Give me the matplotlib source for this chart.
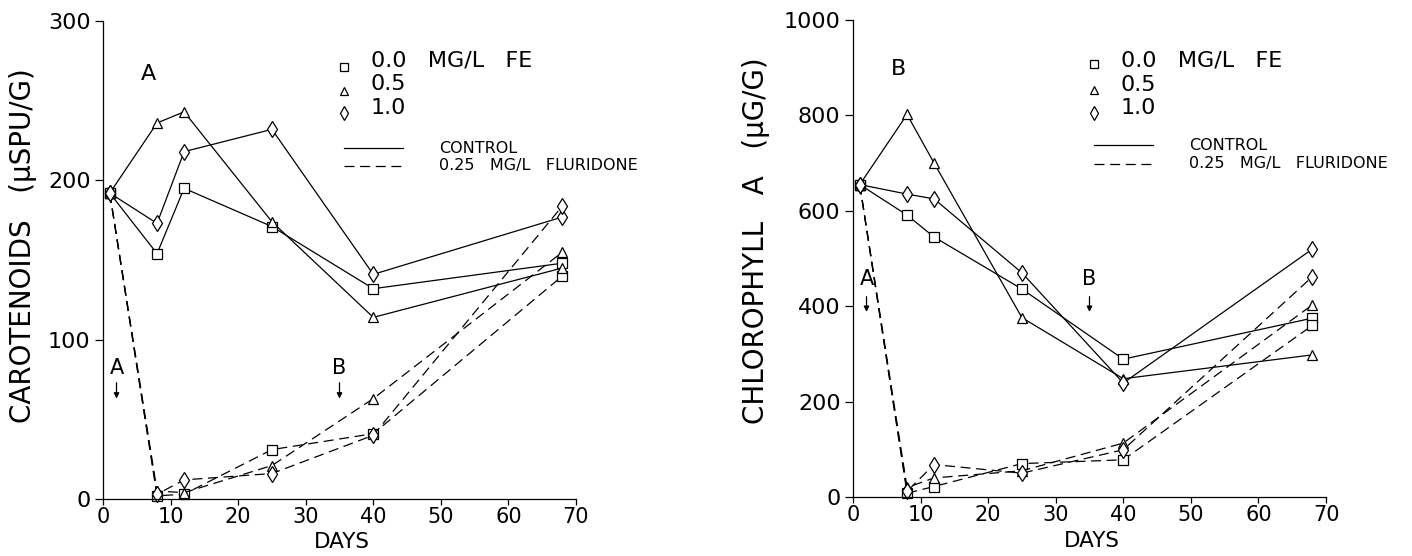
import matplotlib
matplotlib.use("Agg")
import matplotlib.pyplot as plt

# ---------------------------------------------------------------------
# data
days = [1, 8, 12, 25, 40, 68]
series_labels = ["0.0", "0.5", "1.0"]
markers = ["s", "^", "d"]

# A: carotenoids (uSPU/G)
car_control = {
    "0.0": [192, 154, 195, 171, 132, 148],
    "0.5": [192, 236, 243, 174, 114, 145],
    "1.0": [192, 173, 218, 232, 141, 177],
}
car_flur = {
    "0.0": [192, 2, 3, 31, 41, 140],
    "0.5": [192, 5, 4, 21, 63, 155],
    "1.0": [192, 3, 12, 16, 40, 184],
}

# B: chlorophyll a (uG/G)
chl_control = {
    "0.0": [655, 591, 545, 436, 289, 375],
    "0.5": [655, 802, 700, 376, 248, 298],
    "1.0": [655, 635, 625, 470, 239, 520],
}
chl_flur = {
    "0.0": [655, 8, 22, 70, 78, 360],
    "0.5": [655, 20, 40, 55, 113, 403],
    "1.0": [655, 12, 68, 50, 99, 462],
}

legend_text = ["0.0   MG/L   FE", "0.5", "1.0"]

panels = [
    dict(ctrl=car_control, flur=car_flur, ymax=300, yticks=[0, 100, 200, 300],
         ylabel="CAROTENOIDS   (\u03bcSPU/G)", tag="A"),
    dict(ctrl=chl_control, flur=chl_flur, ymax=1000, yticks=[0, 200, 400, 600, 800, 1000],
         ylabel="CHLOROPHYLL   A   (\u03bcG/G)", tag="B"),
]

# ---------------------------------------------------------------------
fig = plt.figure(figsize=(14.12, 5.56), dpi=100)
plt.rcParams["font.family"] = "DejaVu Sans"

ax_rects = [
    [103 / 1412, 1 - 499 / 556, 473 / 1412, 478 / 556],
    [853 / 1412, 1 - 497 / 556, 473 / 1412, 477 / 556],
]
ylab_x = [-0.14, -0.175]
ylab_y = [0.53, 0.537]
xlab_y = [-0.068, -0.072]

# positions of hand-drawn legend rows / annotations, per panel (data units)
leg_text_y = [[275, 260.5, 245.5], [916, 864, 816]]
leg_mark_y = [[271, 256, 242], [908, 854, 806]]
leg_line_y = [[220, 209], [737, 699]]
arrow_txt_y = [82, 458]
arrow_y = [(73, 63), (420, 388)]
tag_y = [267, 898]

dash = (0, (8, 4.5))

for i, p in enumerate(panels):
    ax = fig.add_axes(ax_rects[i])

    for lab, mk in zip(series_labels, markers):
        ms = 8 if mk == "d" else 7
        ax.plot(days, p["ctrl"][lab], color="k", lw=0.9, marker=mk, ms=ms,
                mfc="white", mec="k", mew=0.9, clip_on=False)
        ax.plot(days, p["flur"][lab], color="k", lw=0.9, ls=dash, marker=mk, ms=ms,
                mfc="white", mec="k", mew=0.9, clip_on=False)

    ax.set_xlim(0, 70)
    ax.set_ylim(0, p["ymax"])
    ax.set_xticks(range(0, 71, 10))
    ax.set_yticks(p["yticks"])
    ax.tick_params(axis="y", labelsize=16, length=6, width=0.9, direction="out", pad=3)
    ax.tick_params(axis="x", labelsize=15, length=4.5, width=0.9, direction="out", pad=1.5)
    for side in ["top", "right"]:
        ax.spines[side].set_visible(False)
    for side in ["left", "bottom"]:
        ax.spines[side].set_linewidth(0.9)

    ax.set_xlabel("DAYS", fontsize=15.5)
    ax.xaxis.set_label_coords(0.505, xlab_y[i])
    ax.set_ylabel(p["ylabel"], fontsize=20)
    ax.yaxis.set_label_coords(ylab_x[i], ylab_y[i])

    # panel tag
    ax.text(6.8, tag_y[i], p["tag"], fontsize=16, ha="center", va="center")

    # treatment arrows A and B
    for name, xd in [("A", 2), ("B", 35)]:
        ax.text(xd, arrow_txt_y[i], name, fontsize=15, ha="center", va="center")
        y0, y1 = arrow_y[i]
        ax.annotate("", xy=(xd, y1), xytext=(xd, y0),
                    arrowprops=dict(arrowstyle="-|>", color="k", lw=0.9,
                                    mutation_scale=8, shrinkA=0, shrinkB=0))

    # legend drawn by hand
    for mk, ym, yt, txt in zip(markers, leg_mark_y[i], leg_text_y[i], legend_text):
        ax.plot([35.7], [ym], marker=mk, ms=7 if mk == "d" else 6, mfc="white",
                mec="k", mew=0.9, ls="none")
        ax.text(39.6, yt, txt, fontsize=16, ha="left", va="center")
    ly1, ly2 = leg_line_y[i]
    ax.plot([35.7, 44.4], [ly1, ly1], color="k", lw=0.9)
    ax.plot([35.7, 44.4], [ly2, ly2], color="k", lw=0.9, ls=dash)
    ax.text(49.7, ly1, "CONTROL", fontsize=11.5, ha="left", va="center")
    ax.text(49.7, ly2, "0.25   MG/L   FLURIDONE", fontsize=11.5, ha="left", va="center")

fig.savefig("out.png", dpi=100)
